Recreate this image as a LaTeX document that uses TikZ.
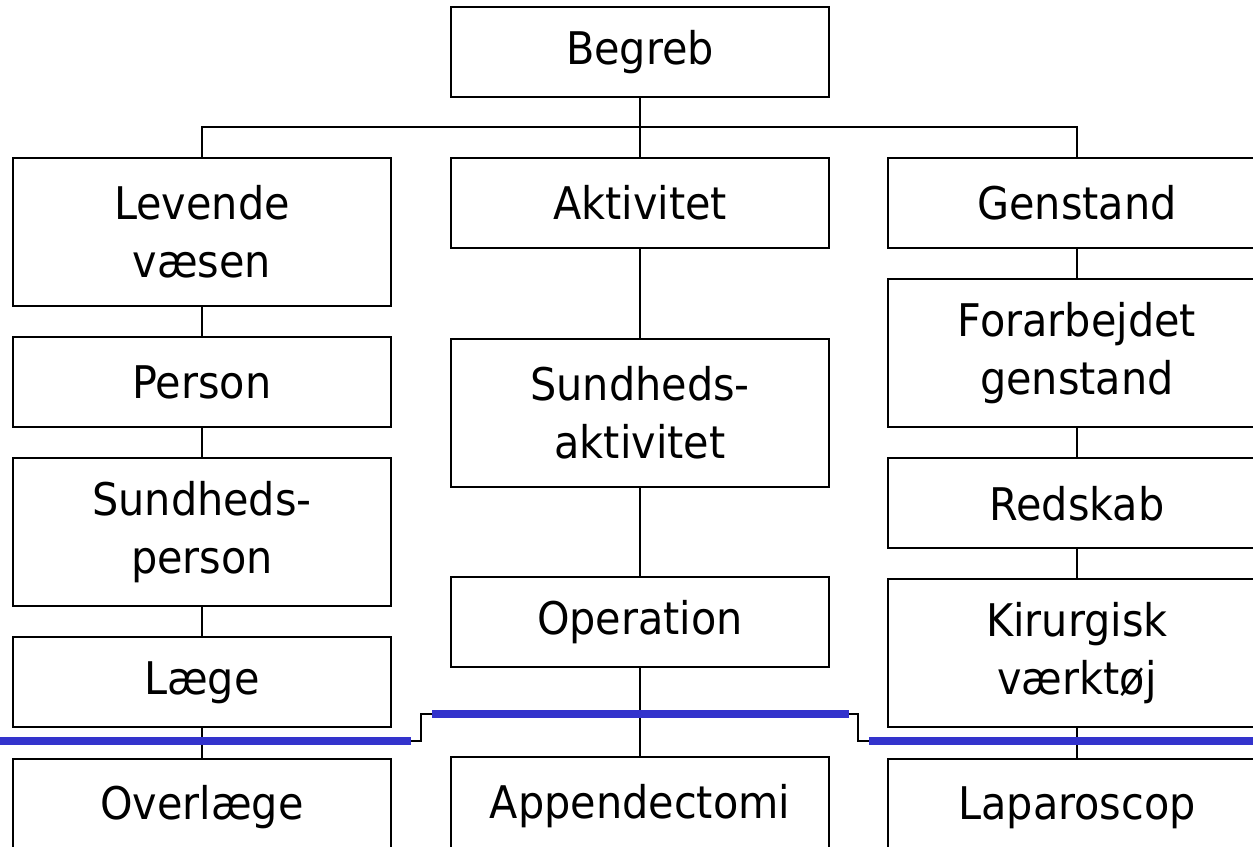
\documentclass[tikz,border=0pt]{standalone}
\usepackage{fontspec}
\setmainfont{DejaVu Sans}[FakeStretch=0.92]
\usepackage{tikz}
\usetikzlibrary{positioning}
\definecolor{cutblue}{RGB}{51,51,204}

\begin{document}
\begin{tikzpicture}[
    x=0.02cm, y=-0.02cm,
    box/.style={draw, rectangle, line width=1.1pt, minimum width=7.56cm,
                minimum height=1.8cm, align=center,
                font=\fontsize{25.6pt}{33pt}\selectfont},
    tall/.style={box, minimum height=2.96cm},
    last/.style={box, minimum height=1.96cm},
    link/.style={line width=0.6pt},
    cut/.style={cutblue, line width=4.5pt},
    node distance=0.585cm
]
    \useasboundingbox (0,0) rectangle (1253,846);

    \node[box] (begreb) at (640,52) {Begreb};

    % left column
    \node[tall, anchor=north] (levende) at (202,157) {Levende\\væsen};
    \node[box, below=of levende] (person) {Person};
    \node[tall, below=of person] (sundperson) {Sundheds-\\person};
    \node[box, below=of sundperson] (laege) {Læge};
    \node[last, below=of laege] (overlaege) {Overlæge};

    % middle column
    \node[box, anchor=north] (aktivitet) at (640,157) {Aktivitet};
    \node[tall, below=1.78cm of aktivitet] (sundakt) {Sundheds-\\aktivitet};
    \node[box, below=1.77cm of sundakt] (operation) {Operation};
    \node[last, below=1.76cm of operation] (append) {Appendectomi};

    % right column
    \node[box, anchor=north] (genstand) at (1077,157) {Genstand};
    \node[tall, below=of genstand] (forarb) {Forarbejdet\\genstand};
    \node[box, below=of forarb] (redskab) {Redskab};
    \node[tall, below=of redskab] (kirurg) {Kirurgisk\\værktøj};
    \node[last, below=of kirurg] (laparo) {Laparoscop};

    \coordinate (bar) at (640,127);
    \draw[link] (levende.north) |- (bar) -| (genstand.north);
    \draw[link] (begreb.south) -- (aktivitet.north);

    \draw[link] (levende) -- (person) -- (sundperson) -- (laege) -- (overlaege);
    \draw[link] (aktivitet) -- (sundakt) -- (operation) -- (append);
    \draw[link] (genstand) -- (forarb) -- (redskab) -- (kirurg) -- (laparo);

    % cut line
    \draw[cut] (0,741) -- (411,741);
    \draw[link] (411,741) -| (421,714) -- (432,714);
    \draw[cut] (432,714) -- (849,714);
    \draw[link] (849,714) -| (858,741) -- (869,741);
    \draw[cut] (869,741) -- (1253,741);
\end{tikzpicture}
\end{document}
